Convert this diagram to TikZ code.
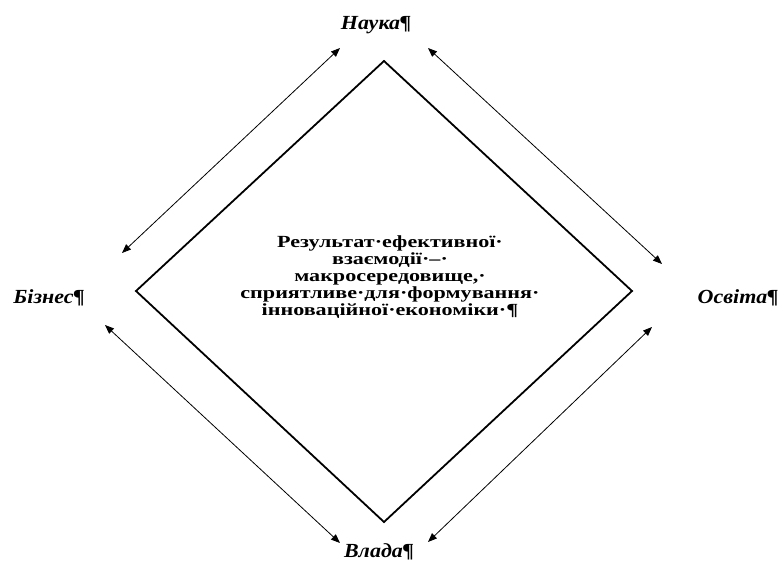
\documentclass[tikz,border=0pt]{standalone}
\usepackage{fontspec}
\setmainfont{Liberation Serif}
\newfontfamily\widefont[FakeStretch=1.3]{Liberation Serif}
\newfontfamily\lblfont[FakeStretch=1.1]{Liberation Serif}
\usetikzlibrary{arrows.meta}
\begin{document}
\begin{tikzpicture}[x=1pt,y=-1pt,
  lbl/.style={font=\lblfont\fontsize{20}{20}\selectfont\bfseries\itshape, inner sep=0pt, anchor=base},
  centertext/.style={font=\widefont\fontsize{17}{17}\selectfont\bfseries, align=center, inner sep=0pt},
  frame/.style={line width=1.8pt, line join=miter},
  link/.style={line width=0.8pt, {Triangle[length=9pt,width=7pt]}-{Triangle[length=9pt,width=7pt]}}]
\useasboundingbox (0,0) rectangle (782,566);
% diamond vertices
\coordinate (dt) at (384,61);
\coordinate (dl) at (136,291);
\coordinate (dr) at (632,291);
\coordinate (db) at (384,522);
\draw[frame] (dt) -- (dr) -- (db) -- (dl) -- cycle;
% labels
\node[lbl] (nauka) at (376,29) {Наука¶};
\node[lbl] (biznes) at (49,303) {Бізнес¶};
\node[lbl] (osvita) at (738,303) {Освіта¶};
\node[lbl] (vlada) at (379,557) {Влада¶};
% centre text
\node[centertext] (result) at (390,277) {Результат·ефективної·\\взаємодії·–·\\макросередовище,·\\сприятливе·для·формування·\\інноваційної·економіки·¶};
% arrow ends
\coordinate (a1) at (122,253);
\coordinate (a2) at (340,48);
\coordinate (b1) at (428,48);
\coordinate (b2) at (662,264);
\coordinate (c1) at (105,325);
\coordinate (c2) at (340,543);
\coordinate (e1) at (652,327);
\coordinate (e2) at (428,542);
\draw[link] (a1) -- (a2);
\draw[link] (b1) -- (b2);
\draw[link] (c1) -- (c2);
\draw[link] (e1) -- (e2);
\end{tikzpicture}
\end{document}
